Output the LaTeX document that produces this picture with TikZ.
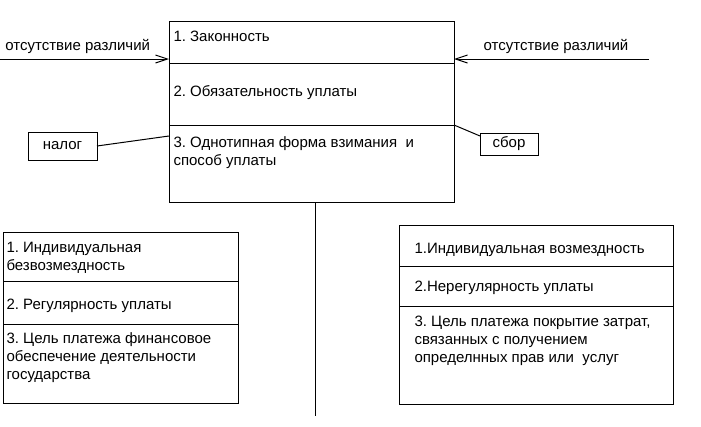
\documentclass[tikz,border=0pt]{standalone}
\usepackage{fontspec}
\setmainfont{Liberation Sans}
\frenchspacing
\usetikzlibrary{positioning,arrows.meta}
\tikzset{
    cell/.style={%
        draw, anchor=north west,
        minimum width=#1,
        inner sep=0pt, outer sep=0pt
        },
    cell/.default=285pt,
    txt/.style={%
        anchor=north west, inner sep=0pt, align=left,
        execute at begin node=\strut
        },
    tag/.style={draw, minimum width=#1, inner sep=0pt, outer sep=0pt},
    lbl/.style={anchor=base, inner sep=0pt, yshift=9pt},
    >={Straight Barb[length=12pt,width=8pt]}
}
\begin{document}
\begin{tikzpicture}[x=1pt, y=-1pt, line width=1pt, font=\fontsize{15}{18}\selectfont]
\useasboundingbox (0,0) rectangle (701,426);

\node[cell, minimum height=42pt] (T1) at (169,21) {};
\node[cell, minimum height=62pt, below=0pt of T1] (T2) {};
\node[cell, minimum height=77pt, below=0pt of T2] (T3) {};

\node[txt, below right=7.4pt and 4pt of T1.north west] {1. Законность};
\node[txt, below right=20.4pt and 4pt of T2.north west] {2. Обязательность уплаты};
\node[txt, below right=11.4pt and 4pt of T3.north west] {3. Однотипная форма взимания~ и\\способ уплаты};

\node[cell=235pt, minimum height=49pt] (L1) at (3,232) {};
\node[cell=235pt, minimum height=43pt, below=0pt of L1] (L2) {};
\node[cell=235pt, minimum height=79pt, below=0pt of L2] (L3) {};

\node[txt, below right=9.4pt and 3pt of L1.north west] {1. Индивидуальная\\безвозмездность};
\node[txt, below right=15.4pt and 3pt of L2.north west] {2. Регулярность уплаты};
\node[txt, below right=8.4pt and 3pt of L3.north west] {3. Цель платежа финансовое\\обеспечение деятельности\\государства};

\node[cell=274pt, minimum height=41pt] (R1) at (399,225) {};
\node[cell=274pt, minimum height=40pt, below=0pt of R1] (R2) {};
\node[cell=274pt, minimum height=98pt, below=0pt of R2] (R3) {};

\node[txt, below right=15.4pt and 15pt of R1.north west] {1.Индивидуальная возмездность};
\node[txt, below right=12.4pt and 15pt of R2.north west] {2.Нерегулярность уплаты};
\node[txt, below right=9.4pt and 15pt of R3.north west] {3. Цель платежа покрытие затрат,\\связанных с получением\\определнных прав или~ услуг};

\node[tag=69pt, minimum height=28pt] (Nalog) at (62.5,146) {налог};
\node[tag=58pt, minimum height=22pt] (Sbor) at (509,144) {сбор};

\coordinate (inL) at (0,59);
\coordinate (inR) at (649,59);
\coordinate (stemEnd) at (315,416);

\draw[->] (inL) -- node[lbl, pos=.46] {отсутствие различий} (inL -| T1.west);
\draw[->] (inR) -- node[lbl, pos=.477] {отсутствие различий} (inR -| T1.east);

\draw (Nalog.east) -- ([yshift=-11pt]T3.north west);
\draw (T3.north east) -- ([yshift=8pt]Sbor.west);

\draw (T3.south -| stemEnd) -- (stemEnd);

\end{tikzpicture}
\end{document}
